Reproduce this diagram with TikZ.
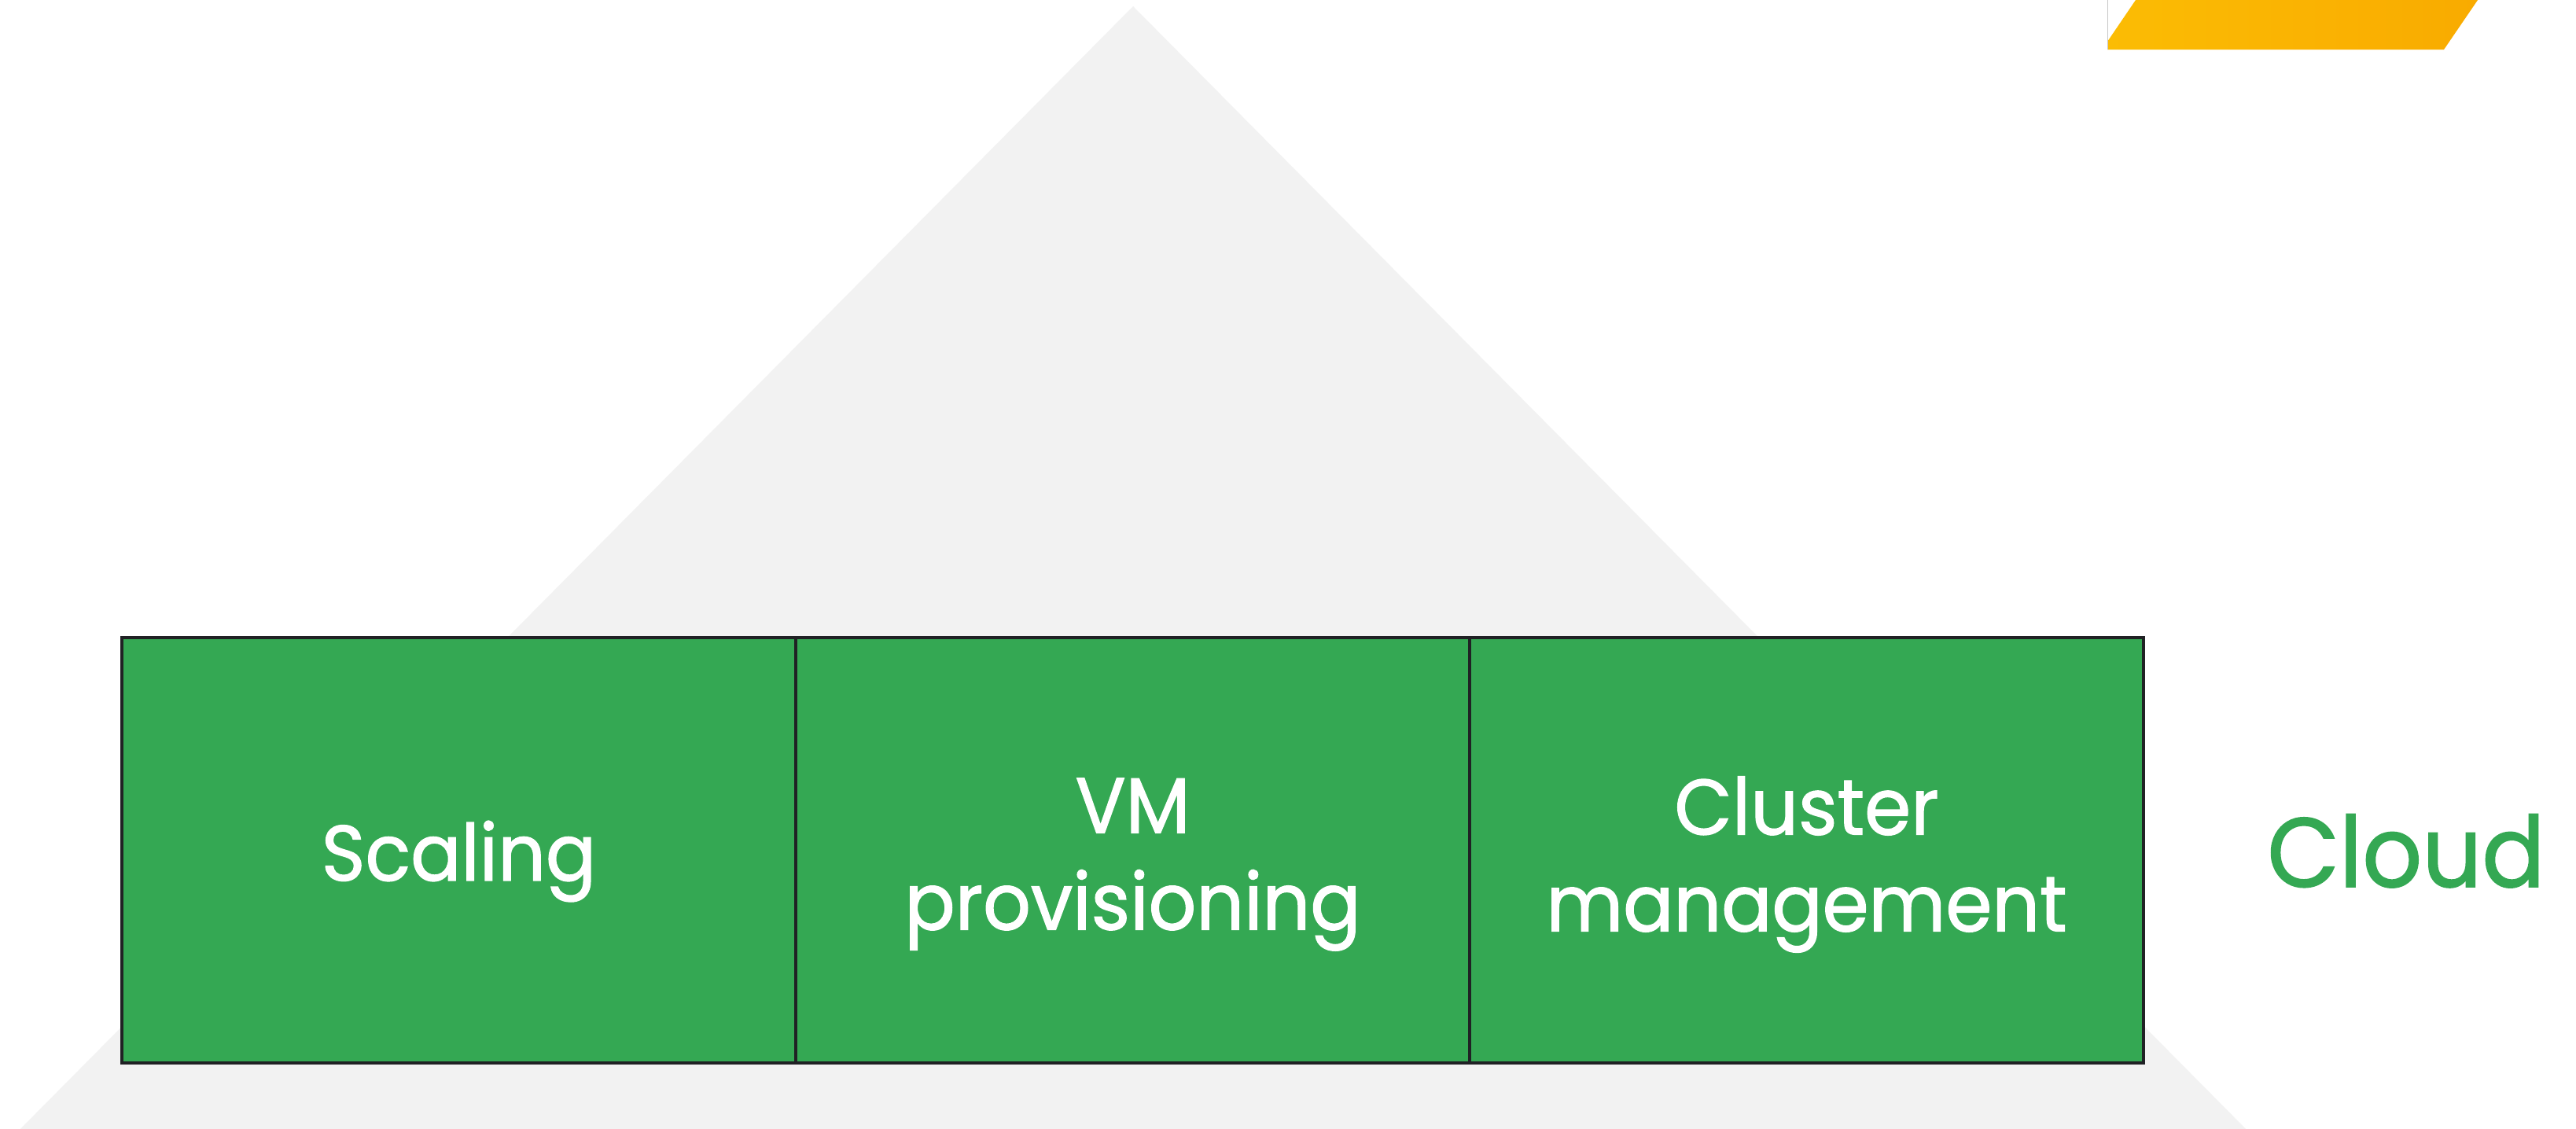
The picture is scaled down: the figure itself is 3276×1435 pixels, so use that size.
\documentclass[tikz,border=0pt]{standalone}
\usepackage{fontspec}
\setmainfont{Poppins}
\newfontfamily\lblfont{Poppins}[FakeStretch=0.95, FakeBold=1.3]
\definecolor{gbg}{HTML}{F2F2F2}
\definecolor{ggreen}{HTML}{34A853}
\definecolor{gborder}{HTML}{202124}
\definecolor{gyellowA}{HTML}{FBBC04}
\definecolor{gyellowB}{HTML}{F9AB00}
\begin{document}
\begin{tikzpicture}[x=1pt,y=-1pt,
  block/.style={draw=gborder, line width=3.5pt, fill=ggreen, minimum width=857pt, minimum height=541pt, inner sep=0pt, outer sep=0pt, anchor=north west},
  lbl/.style={text=white, font=\lblfont\fontsize{100}{123}\selectfont, align=center, inner sep=0pt},
  cloudlbl/.style={text=ggreen, font=\lblfont\fontsize{125}{150}\selectfont, inner sep=0pt, anchor=base},
  ]
\useasboundingbox (0,0) rectangle (3276,1435);
\fill[white] (0,0) rectangle (3276,1435);
\begin{scope}
\clip (0,0) rectangle (3276,1435);
\fill[gbg] (1441,8) -- (2866,1446) -- (16,1446) -- cycle;
\shade[left color=gyellowA, right color=gyellowB] (2716,0) -- (3151,0) -- (3108,63) -- (2680,63) -- (2680,53) -- cycle;
\draw[gray!45, line width=1pt] (2680,0) -- (2680,63);
\end{scope}
\node[block] (b1) at (155,811) {};
\node[block] (b2) at (1012,811) {};
\node[block] (b3) at (1869,811) {};
\node[lbl, yshift=-14pt] (t1) at (b1.center) {Scaling};
\node[lbl, yshift=-18pt] (t2) at (b2.center) {VM\\provisioning};
\node[lbl, yshift=-18pt] (t3) at (b3.center) {Cluster\\management};
\node[cloudlbl] (cloud) at (3060,1128) {Cloud};
\end{tikzpicture}
\end{document}
